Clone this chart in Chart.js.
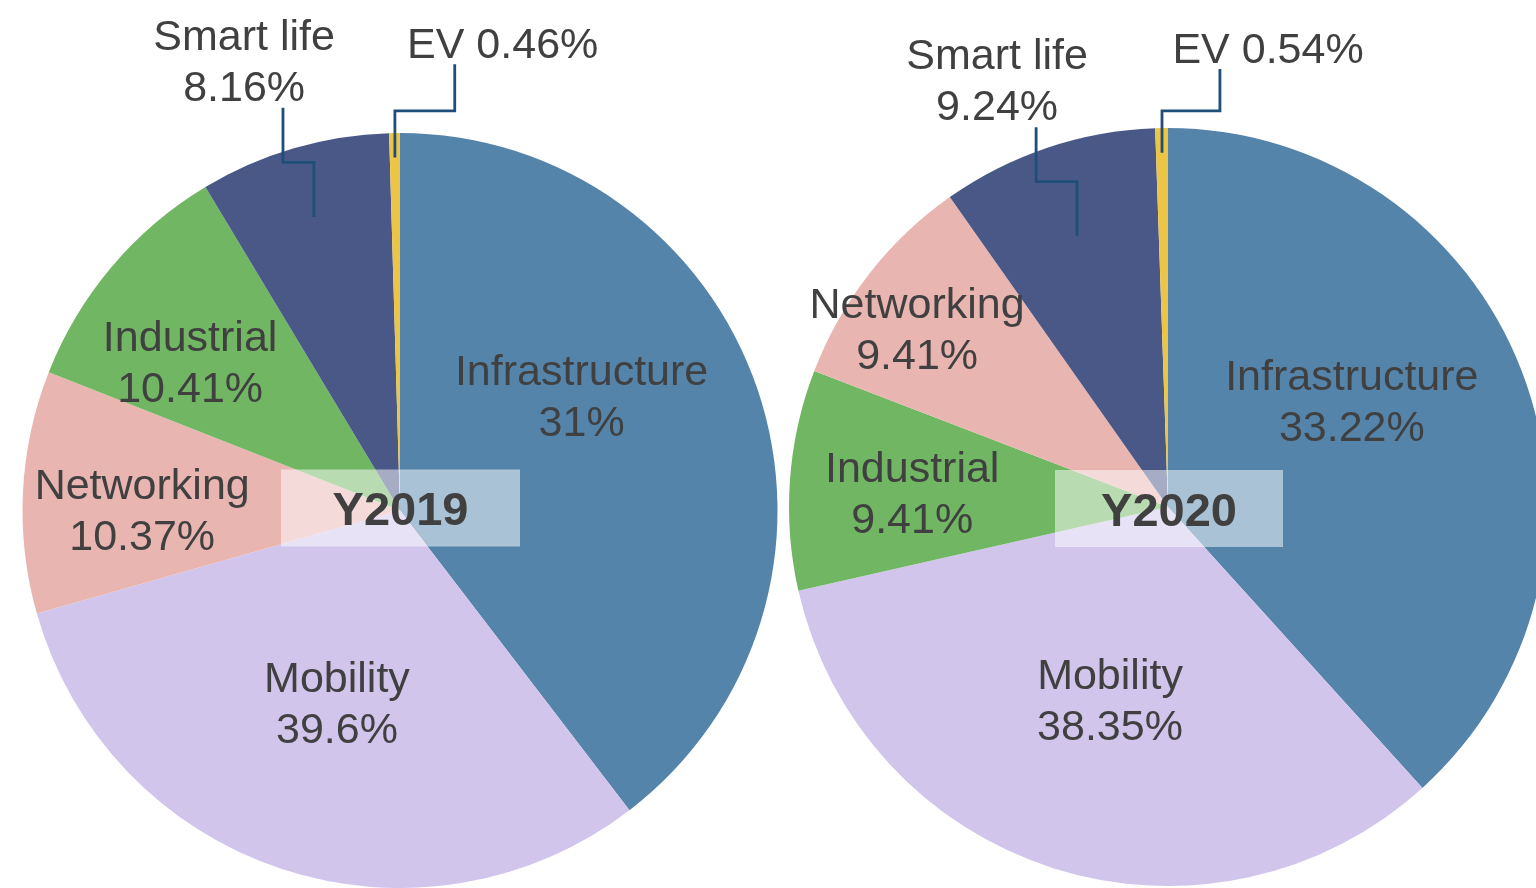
<!DOCTYPE html>
<html>
<head>
<meta charset="utf-8">
<script src="https://cdn.jsdelivr.net/npm/chart.js@4.4.1/dist/chart.umd.min.js"></script>
<style>
  html, body { margin: 0; padding: 0; background: #fff; overflow: hidden; width: 1536px; height: 888px; }
  canvas { position: absolute; top: 0; }
  #c2019 { left: 0; }
  #c2020 { left: 760px; }
</style>
</head>
<body>
<canvas id="c2019" width="800" height="888"></canvas>
<canvas id="c2020" width="816" height="888"></canvas>
<script>
// ── Data ────────────────────────────────────────────────────────────────────
// slice sizes as drawn in the picture; printed percentages kept separately
const CATS_2019    = ['Infrastructure', 'Mobility', 'Networking', 'Industrial', 'Smart life', 'EV'];
const SHARE_2019   = [39.6, 31, 10.37, 10.41, 8.16, 0.46];
const PRINTED_2019 = ['31%', '39.6%', '10.37%', '10.41%', '8.16%', '0.46%'];

const CATS_2020    = ['Infrastructure', 'Mobility', 'Industrial', 'Networking', 'Smart life', 'EV'];
const SHARE_2020   = [38.35, 33.22, 9.41, 9.41, 9.24, 0.54];
const PRINTED_2020 = ['33.22%', '38.35%', '9.41%', '9.41%', '9.24%', '0.54%'];

const CAT_COLORS = {
  'Infrastructure': '#5584ab',
  'Mobility':       '#d1c5ec',
  'Networking':     '#e9b5b1',
  'Industrial':     '#71b662',
  'Smart life':     '#4a5888',
  'EV':             '#ecc546'
};

// label block centres, in pie radii from the pie centre
const PLACE_2019 = {
  'Infrastructure': [0.481, -0.304],
  'Mobility':       [-0.167, 0.508],
  'Networking':     [-0.683, -0.003],
  'Industrial':     [-0.556, -0.394],
  'Smart life':     [-0.413, -1.193],
  'EV':             [0.272, -1.238]
};
const PLACE_2020 = {
  'Infrastructure': [0.485, -0.282],
  'Mobility':       [-0.153, 0.509],
  'Industrial':     [-0.675, -0.037],
  'Networking':     [-0.662, -0.472],
  'Smart life':     [-0.451, -1.127],
  'EV':             [0.264, -1.211]
};

const TEXT_COLOR = '#404040';
const LEADER_COLOR = '#1f4e79';
const FONT = '"Liberation Sans", Arial, sans-serif';

// ── Labels plugin ───────────────────────────────────────────────────────────
function leader(ctx, x0, y0, x1, y1) {
  const ym = (y0 + y1) / 2;
  ctx.beginPath();
  ctx.moveTo(x0, y0);
  ctx.lineTo(x0, ym);
  ctx.lineTo(x1, ym);
  ctx.lineTo(x1, y1);
  ctx.stroke();
}

const sliceLabels = {
  id: 'sliceLabels',
  afterDatasetsDraw(chart, args, opts) {
    const ctx = chart.ctx;
    const arcs = chart.getDatasetMeta(0).data;
    const cx = arcs[0].x, cy = arcs[0].y, R = arcs[0].outerRadius;
    const lh = 51;
    ctx.save();

    // year box
    const [bw, bh, bdx, bdy] = opts.box;
    const bx = cx + bdx, by = cy + bdy;
    ctx.fillStyle = 'rgba(255,255,255,0.5)';
    ctx.fillRect(bx - bw / 2, by - bh / 2, bw, bh);
    ctx.fillStyle = TEXT_COLOR;
    ctx.textAlign = 'center';
    ctx.textBaseline = 'alphabetic';
    ctx.font = 'bold 47px ' + FONT;
    ctx.fillText(opts.year, bx, by + 17);

    ctx.font = '43px ' + FONT;
    ctx.strokeStyle = LEADER_COLOR;
    ctx.lineWidth = 2.8;
    chart.data.labels.forEach((name, i) => {
      const p = opts.place[name];
      const x = cx + p[0] * R, y = cy + p[1] * R;
      const arc = arcs[i];
      const mid = (arc.startAngle + arc.endAngle) / 2;
      ctx.fillStyle = TEXT_COLOR;
      if (name === 'EV') {
        ctx.fillText(name + ' ' + opts.printed[i], x, y + 15);
        leader(ctx, x - 0.127 * R, y + 21,
          cx + Math.cos(mid) * 0.935 * R, cy + Math.sin(mid) * 0.935 * R);
      } else {
        ctx.fillText(name, x, y - lh / 2 + 15);
        ctx.fillText(opts.printed[i], x, y + lh / 2 + 15);
        if (name === 'Smart life') {
          leader(ctx, x + 0.103 * R, y + lh / 2 + 22,
            cx + Math.cos(mid) * opts.leaderR * R, cy + Math.sin(mid) * opts.leaderR * R);
        }
      }
    });
    ctx.restore();
  }
};

// ── Pie builder ─────────────────────────────────────────────────────────────
function buildPie(id, cats, shares, printed, place, year, padding, box, leaderR) {
  return new Chart(document.getElementById(id), {
    type: 'pie',
    data: {
      labels: cats,
      datasets: [{
        data: shares,
        backgroundColor: cats.map(c => CAT_COLORS[c]),
        borderWidth: 0,
        hoverOffset: 0
      }]
    },
    options: {
      responsive: false,
      animation: false,
      events: [],
      layout: { padding },
      plugins: {
        legend: { display: false },
        tooltip: { enabled: false },
        sliceLabels: { year, printed, place, box, leaderR }
      }
    },
    plugins: [sliceLabels]
  });
}

buildPie('c2019', CATS_2019, SHARE_2019, PRINTED_2019, PLACE_2019, 'Y2019',
  { left: 22, right: 22, top: 133, bottom: 0 }, [239, 77, 0.5, -2.5], 0.81);
buildPie('c2020', CATS_2020, SHARE_2020, PRINTED_2020, PLACE_2020, 'Y2020',
  { left: 29, right: 29, top: 128, bottom: 2 }, [228, 77, 1, 1.5], 0.755);
</script>
</body>
</html>
